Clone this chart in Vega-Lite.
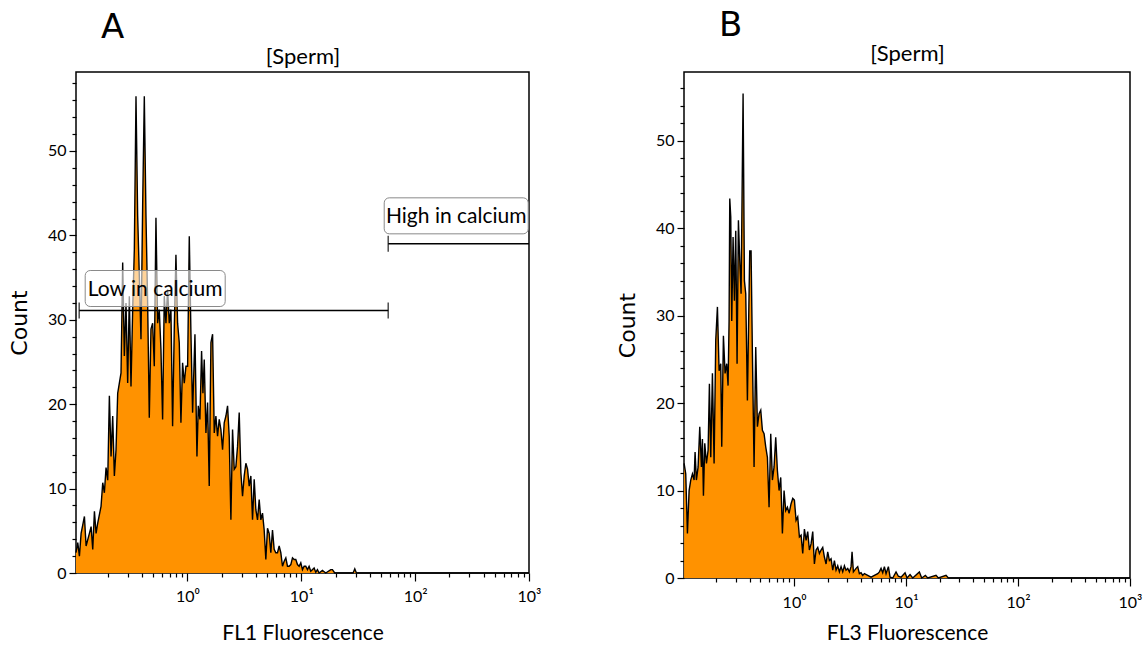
{
  "$schema": "https://vega.github.io/schema/vega-lite/v6.json",
  "padding": {"left": 7, "top": 8, "right": 0, "bottom": 0},
  "spacing": 73,
  "config": {
    "view": {"stroke": "#000", "strokeWidth": 1.5},
    "axis": {
      "labelFont": "Lato",
      "labelFontSize": 16,
      "labelColor": "#000",
      "titleColor": "#000",
      "titleFontWeight": "normal",
      "tickColor": "#000",
      "tickWidth": 1.2,
      "domain": false,
      "grid": false,
      "labelOverlap": false
    },
    "title": {"font": "DejaVu Sans", "fontSize": 34, "fontWeight": "normal", "color": "#000", "anchor": "start", "frame": "group"}
  },
  "datasets": {
    "fl1": [
      {"x":0.105,"count":2.4},{"x":0.1088,"count":3.6},{"x":0.1125,"count":2.0},{"x":0.1164,"count":4.7},{"x":0.1245,"count":6.7},{"x":0.1288,"count":3.2},{"x":0.1377,"count":4.7},{"x":0.1425,"count":5.5},{"x":0.1473,"count":2.8},{"x":0.1524,"count":7.3},{"x":0.1576,"count":4.7},{"x":0.1629,"count":5.9},{"x":0.1742,"count":7.9},{"x":0.1803,"count":10.7},{"x":0.1864,"count":9.5},{"x":0.1928,"count":12.5},{"x":0.1994,"count":11},{"x":0.2062,"count":21},{"x":0.2133,"count":13.8},{"x":0.2206,"count":18.6},{"x":0.2281,"count":11.5},{"x":0.2359,"count":14.6},{"x":0.2440,"count":21.3},{"x":0.2523,"count":22.5},{"x":0.2610,"count":23.7},{"x":0.2699,"count":36.8},{"x":0.2791,"count":25.7},{"x":0.2887,"count":32},{"x":0.2986,"count":22.5},{"x":0.3088,"count":32.8},{"x":0.3193,"count":22.1},{"x":0.3303,"count":31.2},{"x":0.3416,"count":38.3},{"x":0.3533,"count":56.5},{"x":0.3654,"count":42.3},{"x":0.3779,"count":35.2},{"x":0.3908,"count":27.7},{"x":0.4042,"count":43.5},{"x":0.4180,"count":56.5},{"x":0.4323,"count":42.3},{"x":0.4471,"count":32},{"x":0.4624,"count":18.4},{"x":0.4782,"count":28.9},{"x":0.4946,"count":29.6},{"x":0.5115,"count":24.5},{"x":0.5290,"count":42.1},{"x":0.5471,"count":29.6},{"x":0.5658,"count":31.2},{"x":0.5852,"count":26.5},{"x":0.6052,"count":18.2},{"x":0.6260,"count":32.8},{"x":0.6474,"count":29.6},{"x":0.6696,"count":33.6},{"x":0.6925,"count":29.6},{"x":0.7162,"count":31.2},{"x":0.7407,"count":17.4},{"x":0.7661,"count":28.9},{"x":0.7924,"count":37.7},{"x":0.8195,"count":29.6},{"x":0.8476,"count":27.3},{"x":0.8766,"count":17.8},{"x":0.9066,"count":24.9},{"x":0.9380,"count":22.5},{"x":0.9701,"count":24.5},{"x":1.0034,"count":24.5},{"x":1.038,"count":39.9},
      {"x":1.073,"count":28.5},{"x":1.110,"count":19},{"x":1.164,"count":28.3},{"x":1.212,"count":13.8},{"x":1.245,"count":19.8},{"x":1.287,"count":18.2},{"x":1.331,"count":26.3},{"x":1.368,"count":21.3},{"x":1.405,"count":25.3},{"x":1.453,"count":16.6},{"x":1.503,"count":20.2},{"x":1.554,"count":10.3},{"x":1.608,"count":27.3},{"x":1.663,"count":28.3},{"x":1.720,"count":16.6},{"x":1.778,"count":18.6},{"x":1.839,"count":16.2},{"x":1.902,"count":18.2},{"x":1.967,"count":17},{"x":2.035,"count":14.6},{"x":2.104,"count":17.8},{"x":2.177,"count":18.6},{"x":2.251,"count":19.8},{"x":2.328,"count":16.2},{"x":2.408,"count":6.3},{"x":2.490,"count":17},{"x":2.576,"count":12.3},{"x":2.664,"count":12.6},{"x":2.755,"count":15},{"x":2.849,"count":19},{"x":2.947,"count":11.9},{"x":3.048,"count":9.1},{"x":3.152,"count":11.5},{"x":3.260,"count":13},{"x":3.372,"count":12.3},{"x":3.487,"count":10.3},{"x":3.606,"count":11.5},{"x":3.730,"count":6.3},{"x":3.858,"count":11.1},{"x":3.990,"count":7.5},{"x":4.126,"count":6.3},{"x":4.267,"count":8.7},{"x":4.413,"count":6.3},{"x":4.564,"count":7.1},{"x":4.721,"count":5.1},{"x":4.882,"count":1.6},{"x":5.049,"count":5.3},{"x":5.222,"count":4.7},{"x":5.401,"count":2.4},{"x":5.586,"count":5.1},{"x":5.777,"count":2.8},{"x":5.975,"count":2.4},{"x":6.180,"count":2.4},{"x":6.391,"count":3.2},{"x":6.610,"count":2.4},{"x":6.837,"count":0.8},{"x":7.071,"count":1.4},{"x":7.313,"count":1.8},{"x":7.563,"count":0.8},{"x":7.822,"count":0.8},{"x":8.090,"count":1.0},{"x":8.367,"count":1.8},{"x":8.653,"count":1.6},{"x":8.950,"count":1.6},{"x":9.256,"count":1.0},{"x":9.572,"count":0.8},{"x":9.90,"count":1.2},{"x":10.24,"count":0.4},{"x":10.59,"count":0.8},{"x":10.95,"count":0.8},{"x":11.33,"count":0.4},{"x":11.71,"count":0.8},{"x":12.11,"count":0.2},{"x":12.96,"count":0.6},{"x":13.40,"count":0.1},{"x":13.86,"count":0.4},{"x":14.33,"count":0},{"x":15.33,"count":0.3},{"x":16.40,"count":0},{"x":18.15,"count":0.4},{"x":18.77,"count":0.4},{"x":19.67,"count":0},{"x":28.5,"count":0},{"x":29.5,"count":0.5},{"x":30.5,"count":0},{"x":1000,"count":0}
    ],
    "fl3": [
      {"x":0.1042,"count":13.1},{"x":0.1078,"count":11.9},{"x":0.1116,"count":5.1},{"x":0.1155,"count":10},{"x":0.1195,"count":11.2},{"x":0.1237,"count":11.9},{"x":0.1280,"count":11.2},{"x":0.1306,"count":14.4},{"x":0.1342,"count":11.2},{"x":0.1390,"count":12.7},{"x":0.1438,"count":17.3},{"x":0.1488,"count":12.7},{"x":0.1519,"count":15.9},{"x":0.1551,"count":9.4},{"x":0.1594,"count":15.4},{"x":0.1650,"count":13.1},{"x":0.1707,"count":14.6},{"x":0.1754,"count":22.2},{"x":0.1803,"count":13.8},{"x":0.1866,"count":23.4},{"x":0.1931,"count":13.1},{"x":0.1998,"count":27.2},{"x":0.2068,"count":31},{"x":0.2140,"count":23.7},{"x":0.2214,"count":24.5},{"x":0.2260,"count":15},{"x":0.2339,"count":27.7},{"x":0.2420,"count":23.4},{"x":0.2504,"count":24.5},{"x":0.2574,"count":22},{"x":0.2628,"count":29.4},{"x":0.2665,"count":43.4},{"x":0.2720,"count":41.3},{"x":0.2776,"count":29.4},{"x":0.2853,"count":39},{"x":0.2933,"count":31.7},{"x":0.3014,"count":39.7},{"x":0.3098,"count":24.5},{"x":0.3184,"count":40.9},{"x":0.3273,"count":36.3},{"x":0.3364,"count":32.5},{"x":0.3505,"count":55.4},{"x":0.3602,"count":34},{"x":0.3702,"count":32.5},{"x":0.3831,"count":20.3},{"x":0.3937,"count":30.2},{"x":0.4019,"count":37.4},{"x":0.4131,"count":37.4},{"x":0.4246,"count":25.6},{"x":0.4394,"count":12.7},{"x":0.4547,"count":26.4},{"x":0.4706,"count":17.3},{"x":0.4870,"count":18.8},{"x":0.5040,"count":19.2},{"x":0.5215,"count":16.9},{"x":0.5397,"count":16.5},{"x":0.5585,"count":15},{"x":0.5779,"count":13.8},{"x":0.5981,"count":8.1},{"x":0.6189,"count":16.5},{"x":0.6405,"count":11.2},{"x":0.6628,"count":12.7},{"x":0.6859,"count":16.1},{"x":0.7098,"count":12.3},{"x":0.7346,"count":10},{"x":0.7602,"count":11.5},{"x":0.7867,"count":5.1},{"x":0.8141,"count":10},{"x":0.8425,"count":7.7},{"x":0.8718,"count":8.1},{"x":0.9023,"count":7.4},
      {"x":0.940,"count":8.5},{"x":0.973,"count":9.1},{"x":1.007,"count":8.9},{"x":1.042,"count":6.6},{"x":1.078,"count":7},{"x":1.116,"count":4.7},{"x":1.155,"count":4.9},{"x":1.195,"count":2.8},{"x":1.237,"count":5.6},{"x":1.280,"count":4.3},{"x":1.324,"count":5.3},{"x":1.370,"count":3.2},{"x":1.418,"count":3.9},{"x":1.468,"count":5.3},{"x":1.519,"count":1.6},{"x":1.572,"count":3.2},{"x":1.627,"count":3.5},{"x":1.684,"count":2.8},{"x":1.742,"count":3.2},{"x":1.803,"count":3.5},{"x":1.866,"count":2.4},{"x":1.931,"count":1.6},{"x":1.998,"count":3},{"x":2.068,"count":2},{"x":2.140,"count":2.2},{"x":2.215,"count":0.9},{"x":2.292,"count":2},{"x":2.371,"count":0.9},{"x":2.454,"count":1.4},{"x":2.540,"count":0.7},{"x":2.628,"count":1.3},{"x":2.720,"count":0.7},{"x":2.815,"count":1.4},{"x":2.912,"count":0.9},{"x":3.014,"count":1.1},{"x":3.119,"count":0.7},{"x":3.228,"count":1.3},{"x":3.295,"count":3},{"x":3.387,"count":0.7},{"x":3.578,"count":1.1},{"x":3.702,"count":1.3},{"x":3.831,"count":0.5},{"x":3.965,"count":0.6},{"x":4.103,"count":0.3},{"x":4.246,"count":0.5},{"x":4.547,"count":0.3},{"x":4.870,"count":0.1},{"x":5.215,"count":0.3},{"x":5.585,"count":0.5},{"x":5.780,"count":0.7},{"x":5.982,"count":1.1},{"x":6.190,"count":0.6},{"x":6.406,"count":1.3},{"x":6.630,"count":0.5},{"x":6.954,"count":1.3},{"x":7.197,"count":0.1},{"x":7.603,"count":0},{"x":8.139,"count":0.7},{"x":8.540,"count":0.2},{"x":9.024,"count":0.1},{"x":9.797,"count":0.6},{"x":10.21,"count":0},{"x":10.86,"count":0.4},{"x":11.47,"count":0},{"x":13.15,"count":0.7},{"x":13.80,"count":0},{"x":14.88,"count":0.3},{"x":15.61,"count":0},{"x":18.53,"count":0.3},{"x":19.44,"count":0},{"x":22.76,"count":0.3},{"x":23.88,"count":0},{"x":1000,"count":0}
    ],
    "gates": [
      {"gate": "Low in calcium", "x": 0.112, "x2": 58, "count": 31.1},
      {"gate": "High in calcium", "x": 58, "x2": 1000, "count": 39.0}
    ]
  },
  "hconcat": [
    {
      "width": 453,
      "height": 501,
      "title": {"text": "A", "dx": 25, "offset": 0},
      "resolve": {"axis": {"x": "independent", "y": "independent"}},
      "layer": [
        {
          "data": {"name": "fl1"},
          "mark": {"type": "area", "color": "#ff9200", "interpolate": "linear"},
          "encoding": {
            "x": {"field": "x", "type": "quantitative",
              "scale": {"type": "log", "domain": [0.105, 1000], "nice": false},
              "axis": {"title": "FL1 Fluorescence", "titleFont": "Lato", "titleFontSize": 21, "titlePadding": 18,
                "values": [0.2,0.3,0.4,0.5,0.6,0.7,0.8,0.9,1,2,3,4,5,6,7,8,9,10,20,30,40,50,60,70,80,90,100,200,300,400,500,600,700,800,900,1000],
                "labelExpr": "datum.value == 1 ? '10⁰' : datum.value == 10 ? '10¹' : datum.value == 100 ? '10²' : datum.value == 1000 ? '10³' : ''",
                "labelFlush": false, "labelOverlap": false, "labelPadding": 7,
                "tickSize": {"condition": {"test": "datum.value == 1 || datum.value == 10 || datum.value == 100 || datum.value == 1000", "value": 8}, "value": 4}}},
            "y": {"field": "count", "type": "quantitative", "stack": null,
              "scale": {"domain": [0, 59.36], "nice": false},
              "axis": {"title": "Count", "titleFont": "DejaVu Sans", "titleFontSize": 22, "titlePadding": 16,
                "values": [0,2,4,6,8,10,12,14,16,18,20,22,24,26,28,30,32,34,36,38,40,42,44,46,48,50,52,54,56,58],
                "labelExpr": "datum.value % 10 == 0 ? datum.label : ''", "labelOverlap": false, "labelPadding": 3,
                "tickSize": {"condition": {"test": "datum.value % 10 == 0", "value": 7}, "value": 4}}}
          }
        },
        {
          "data": {"name": "fl1"},
          "mark": {"type": "line", "color": "#000", "strokeWidth": 1.4, "interpolate": "linear"},
          "encoding": {
            "x": {"field": "x", "type": "quantitative",
              "axis": {"orient": "top", "title": "[Sperm]", "titleFont": "Lato", "titleFontSize": 22, "titlePadding": 4, "labels": false, "ticks": false, "domain": false}},
            "y": {"field": "count", "type": "quantitative", "axis": null}
          }
        },
        {
          "data": {"name": "gates"},
          "mark": {"type": "rule", "color": "#000", "strokeWidth": 1.5},
          "encoding": {
            "x": {"field": "x", "type": "quantitative", "axis": null},
            "x2": {"field": "x2"},
            "y": {"field": "count", "type": "quantitative", "axis": null}
          }
        },
        {
          "data": {"name": "gates"},
          "mark": {"type": "tick", "orient": "vertical", "color": "#000", "size": 16, "thickness": 1.5},
          "encoding": {
            "x": {"field": "x", "type": "quantitative", "axis": null},
            "y": {"field": "count", "type": "quantitative", "axis": null}
          }
        },
        {
          "data": {"name": "gates"},
          "transform": [{"filter": "datum.gate == 'Low in calcium'"}],
          "mark": {"type": "tick", "orient": "vertical", "color": "#000", "size": 16, "thickness": 1.5},
          "encoding": {
            "x": {"field": "x2", "type": "quantitative", "axis": null},
            "y": {"field": "count", "type": "quantitative", "axis": null}
          }
        },
        {
          "data": {"name": "gates"},
          "transform": [{"filter": "datum.gate == 'Low in calcium'"}],
          "mark": {"type": "rect", "width": 140, "height": 36, "xOffset": 76, "yOffset": -22, "cornerRadius": 5, "fill": "#fff", "fillOpacity": 0.6, "stroke": "#8a8a8a", "strokeWidth": 1},
          "encoding": {
            "x": {"field": "x", "type": "quantitative", "axis": null},
            "y": {"field": "count", "type": "quantitative", "axis": null}
          }
        },
        {
          "data": {"name": "gates"},
          "transform": [{"filter": "datum.gate == 'Low in calcium'"}],
          "mark": {"type": "text", "font": "Lato", "fontSize": 21, "color": "#000", "align": "center", "baseline": "middle", "xOffset": 76, "yOffset": -21},
          "encoding": {
            "x": {"field": "x", "type": "quantitative", "axis": null},
            "y": {"field": "count", "type": "quantitative", "axis": null},
            "text": {"field": "gate"}
          }
        },
        {
          "data": {"name": "gates"},
          "transform": [{"filter": "datum.gate == 'High in calcium'"}],
          "mark": {"type": "rect", "width": 144, "height": 36, "xOffset": 68, "yOffset": -28, "cornerRadius": 5, "fill": "#fff", "fillOpacity": 0.6, "stroke": "#8a8a8a", "strokeWidth": 1},
          "encoding": {
            "x": {"field": "x", "type": "quantitative", "axis": null},
            "y": {"field": "count", "type": "quantitative", "axis": null}
          }
        },
        {
          "data": {"name": "gates"},
          "transform": [{"filter": "datum.gate == 'High in calcium'"}],
          "mark": {"type": "text", "font": "Lato", "fontSize": 21, "color": "#000", "align": "center", "baseline": "middle", "xOffset": 68, "yOffset": -27},
          "encoding": {
            "x": {"field": "x", "type": "quantitative", "axis": null},
            "y": {"field": "count", "type": "quantitative", "axis": null},
            "text": {"field": "gate"}
          }
        }
      ]
    },
    {
      "width": 446,
      "height": 506,
      "title": {"text": "B", "dx": 35, "offset": -1},
      "resolve": {"axis": {"x": "independent", "y": "independent"}},
      "layer": [
        {
          "data": {"name": "fl3"},
          "mark": {"type": "area", "color": "#ff9200", "interpolate": "linear"},
          "encoding": {
            "x": {"field": "x", "type": "quantitative",
              "scale": {"type": "log", "domain": [0.104, 1000], "nice": false},
              "axis": {"title": "FL3 Fluorescence", "titleFont": "Lato", "titleFontSize": 21, "titlePadding": 12,
                "values": [0.2,0.3,0.4,0.5,0.6,0.7,0.8,0.9,1,2,3,4,5,6,7,8,9,10,20,30,40,50,60,70,80,90,100,200,300,400,500,600,700,800,900,1000],
                "labelExpr": "datum.value == 1 ? '10⁰' : datum.value == 10 ? '10¹' : datum.value == 100 ? '10²' : datum.value == 1000 ? '10³' : ''",
                "labelFlush": false, "labelOverlap": false, "labelPadding": 8,
                "tickSize": {"condition": {"test": "datum.value == 1 || datum.value == 10 || datum.value == 100 || datum.value == 1000", "value": 8}, "value": 4}}},
            "y": {"field": "count", "type": "quantitative", "stack": null,
              "scale": {"domain": [0, 57.86], "nice": false},
              "axis": {"title": "Count", "titleFont": "DejaVu Sans", "titleFontSize": 22, "titlePadding": 16,
                "values": [0,2,4,6,8,10,12,14,16,18,20,22,24,26,28,30,32,34,36,38,40,42,44,46,48,50,52,54,56],
                "labelExpr": "datum.value % 10 == 0 ? datum.label : ''", "labelOverlap": false, "labelPadding": 3,
                "tickSize": {"condition": {"test": "datum.value % 10 == 0", "value": 7}, "value": 4}}}
          }
        },
        {
          "data": {"name": "fl3"},
          "mark": {"type": "line", "color": "#000", "strokeWidth": 1.4, "interpolate": "linear"},
          "encoding": {
            "x": {"field": "x", "type": "quantitative",
              "axis": {"orient": "top", "title": "[Sperm]", "titleFont": "Lato", "titleFontSize": 22, "titlePadding": 7, "labels": false, "ticks": false, "domain": false}},
            "y": {"field": "count", "type": "quantitative", "axis": null}
          }
        }
      ]
    }
  ]
}
